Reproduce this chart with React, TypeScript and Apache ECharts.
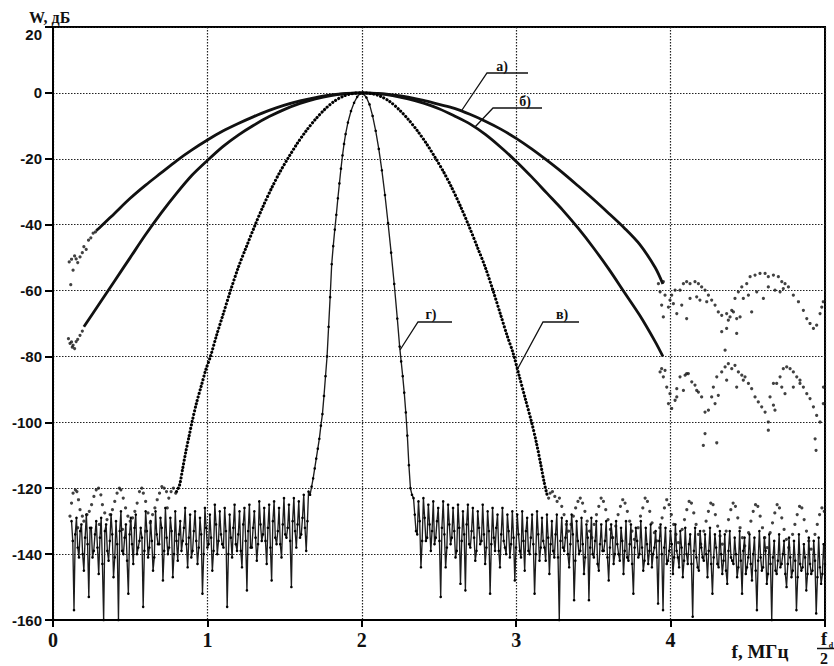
import React, { useEffect, useRef } from "react";
import * as echarts from "echarts";

type P = [number, number];

// ---------- axes ----------
const xMin = 0, xMax = 5, xStep = 1;
const yMin = -160, yMax = 20, yStep = 20;

// ---------- curve а) ----------
const aEndsLeft: P[] = [[0.105,-51.3],[0.115,-58.2],[0.12,-50.5],[0.13,-53.8],[0.14,-49.5],[0.15,-50.4],[0.16,-51.5],[0.175,-49.8],[0.19,-48.5],[0.2,-46.7],[0.215,-47.5],[0.23,-44.7],[0.245,-44],[0.26,-42.6],[0.275,-42.2]];
const aMain: P[] = [[0.28,-41.8],[0.3,-41],[0.4,-36.5],[0.5,-32],[0.6,-28],[0.7,-24.3],[0.8,-20.6],[0.9,-17.3],[1.0,-14.3],[1.1,-11.6],[1.2,-9.3],[1.3,-7.2],[1.4,-5.3],[1.5,-3.7],[1.6,-2.4],[1.7,-1.4],[1.8,-0.6],[1.9,-0.15],[2.0,0],[2.1,-0.15],[2.2,-0.6],[2.3,-1.3],[2.4,-2.3],[2.5,-3.5],[2.6,-4.7],[2.7,-6.5],[2.8,-8.6],[2.9,-11],[3.0,-13.8],[3.1,-17],[3.2,-20.5],[3.3,-24.2],[3.4,-28.2],[3.5,-32.3],[3.6,-36.6],[3.7,-41],[3.8,-46],[3.9,-53],[3.95,-58]];
const aAlias: P[] = [[3.921,-57.9],[3.953,-57.3],[3.932,-60.4],[3.964,-61.4],[3.942,-64.4],[3.953,-68],[3.996,-62.9],[4.007,-61.4],[4.029,-59.9],[4.061,-59.9],[4.083,-57.9],[4.104,-57.3],[4.126,-57.9],[4.158,-57.3],[4.18,-57.9],[4.201,-58.9],[4.223,-59.9],[4.245,-61.4],[4.266,-62.9],[4.288,-64.4],[4.309,-66.5],[4.331,-67.5],[4.363,-67],[4.385,-68],[4.407,-66.5],[4.428,-68.5],
  [3.986,-65],[4.018,-64],[4.04,-67],[4.072,-64.4],[4.104,-68.5],[4.126,-62.4],[4.169,-61.9],[4.19,-62.9],[4.234,-63.4],
  [4.331,-72.5],[4.363,-71.5],[4.353,-78.1],[4.428,-73],[4.45,-68],[4.374,-69],[4.396,-66],
  [4.417,-62.4],[4.439,-60.4],[4.461,-58.9],[4.493,-57.9],[4.515,-55.8],[4.547,-55.3],[4.579,-54.8],[4.612,-54.8],[4.633,-55.8],[4.666,-55.3],[4.698,-55.8],[4.72,-57.3],[4.741,-57.9],[4.763,-58.9],[4.795,-61.4],[4.828,-63.4],[4.86,-66],[4.882,-68.5],[4.903,-70],[4.925,-71.5],[4.946,-70.5],[4.968,-67],[4.979,-65],[4.989,-63.4],
  [4.471,-62.4],[4.504,-61.4],[4.525,-66.5],[4.558,-60.4],[4.601,-62.4],[4.633,-58.9],[4.676,-59.9],[4.709,-60.4],[4.73,-59.4]];

// ---------- curve б) ----------
const bEndsLeft: P[] = [[0.1,-74.6],[0.11,-76],[0.12,-75.6],[0.125,-77.2],[0.13,-76.6],[0.14,-77.6],[0.15,-75.5],[0.16,-74.8],[0.175,-73.6],[0.19,-72.3]];
const bMain: P[] = [[0.2,-71],[0.3,-64],[0.4,-57],[0.5,-50],[0.6,-43],[0.7,-36.5],[0.8,-30.5],[0.9,-25],[1.0,-20.5],[1.1,-16.3],[1.2,-12.8],[1.3,-9.8],[1.4,-7.2],[1.5,-5],[1.6,-3.2],[1.7,-1.8],[1.8,-0.8],[1.9,-0.2],[2.0,0],[2.1,-0.2],[2.2,-0.8],[2.3,-1.8],[2.4,-3.1],[2.5,-4.8],[2.6,-7],[2.7,-9.4],[2.8,-12.6],[2.9,-16.5],[3.0,-20.8],[3.1,-25.5],[3.2,-30.5],[3.3,-35.5],[3.4,-41],[3.5,-47],[3.6,-53.5],[3.7,-60.5],[3.8,-67.5],[3.9,-75.5],[3.95,-80]];
const bAlias: P[] = [[3.942,-83.7],[3.932,-84.7],[3.964,-84.2],[3.953,-86.2],[3.975,-89.3],[3.996,-91.3],[3.986,-94.3],[4.007,-95.8],[4.029,-93.3],[4.04,-89.8],[4.061,-86.2],[4.094,-85.7],[4.115,-85.2],[4.137,-87.7],[4.158,-88.7],[4.18,-90.8],[4.201,-92.3],[4.223,-96.9],[4.245,-96.3],[4.266,-92.3],[4.288,-94.3],[4.309,-91.8],[4.331,-84.7],[4.353,-83.2],[4.374,-82.2],[4.396,-83.7],[4.417,-82.7],[4.439,-84.7],[4.461,-85.7],[4.482,-86.2],[4.504,-88.2],[4.525,-89.8],[4.547,-92.3],[4.568,-93.8],[4.59,-95.3],[4.612,-96.9],[4.633,-99.9],[4.644,-92.3],[4.666,-88.2],[4.687,-88.2],[4.709,-86.2],[4.73,-83.7],[4.752,-83.2],[4.774,-83.7],[4.795,-84.7],[4.817,-86.2],[4.838,-88.2],[4.86,-89.3],[4.882,-91.3],[4.903,-92.8],[4.925,-95.3],[4.946,-97.9],[4.968,-99.9],[4.989,-94.3],[4.99,-89.3],
  [4.04,-92.3],[4.083,-90.3],[4.104,-85.2],[4.169,-90.3],[4.277,-89.3],[4.299,-86.2],[4.363,-87.2],[4.428,-89.3],[4.471,-87.2],[4.666,-94.8],[4.676,-96.3],[4.72,-89.3],[4.741,-91.3],[4.795,-89.3],[4.838,-87.2],
  [4.223,-103.4],[4.212,-107],[4.299,-106.2],[4.633,-102.4],[4.936,-105],[4.942,-108.5]];

// ---------- curve в) ----------
const vLobe: P[] = [[0.8,-121],[0.82,-119],[0.84,-114],[0.86,-109],[0.88,-104.5],[0.9,-100],[0.93,-94],[0.96,-89],[0.99,-84],[1.02,-80],[1.06,-73.5],[1.1,-67.5],[1.15,-60],[1.2,-53],[1.25,-47],[1.31,-40],[1.36,-34.5],[1.42,-28.5],[1.47,-24],[1.52,-20],[1.58,-15.5],[1.64,-11.5],[1.7,-8],[1.76,-5],[1.82,-2.6],[1.88,-1],[1.94,-0.2],[2.0,0],[2.06,-0.2],[2.12,-1],[2.18,-2.6],[2.24,-5],[2.3,-8],[2.36,-11.5],[2.42,-15.5],[2.48,-20],[2.53,-24],[2.58,-28.5],[2.64,-34.5],[2.69,-40],[2.75,-47],[2.8,-53],[2.85,-60],[2.9,-67.5],[2.94,-73.5],[2.98,-79],[3.02,-86],[3.06,-93],[3.1,-100],[3.13,-106],[3.16,-113],[3.18,-118],[3.2,-122]];
const vNoiseLeft: P[] = [[0.11,-128.5],[0.12,-124.5],[0.13,-121.5],[0.145,-120.5],[0.155,-121],[0.165,-123.5],[0.175,-126.5],[0.19,-128.5],[0.2,-130],
  [0.22,-128],[0.235,-127],[0.25,-125],[0.265,-122.5],[0.28,-120.5],[0.295,-120],[0.31,-122],[0.32,-125],[0.335,-127.5],[0.35,-129.5],
  [0.37,-128],[0.385,-126.5],[0.4,-124],[0.415,-121.5],[0.43,-120],[0.44,-120.5],[0.455,-123],[0.47,-126],[0.485,-128.5],[0.5,-130],
  [0.515,-129],[0.53,-127],[0.545,-124.5],[0.56,-121],[0.575,-120],[0.585,-121.5],[0.6,-124],[0.615,-127.5],[0.63,-130.5],
  [0.645,-128],[0.66,-126],[0.675,-123.5],[0.69,-121.5],[0.705,-119.5],[0.72,-120],[0.735,-121],[0.75,-123],[0.765,-121],[0.78,-120],[0.795,-121.5],
  [0.16,-132],[0.3,-131],[0.45,-132.5],[0.6,-133],[0.74,-126]];
const vNoiseRight: P[] = [[3.21,-123],[3.22,-121.5],[3.235,-121],[3.25,-122.5],[3.265,-124],[3.28,-123],[3.295,-125.5],[3.31,-128],[3.325,-131],[3.34,-133],[3.355,-131],
  [3.37,-128.5],[3.385,-126],[3.4,-124],[3.415,-123],[3.43,-124.5],[3.445,-127],[3.46,-130],[3.475,-133],[3.49,-135],
  [3.505,-131],[3.52,-128],[3.535,-125.5],[3.55,-123],[3.565,-124],[3.58,-126.5],[3.595,-129.5],[3.61,-132.5],[3.625,-135],
  [3.645,-131.5],[3.66,-128],[3.675,-125.5],[3.69,-123.5],[3.705,-124.5],[3.72,-127],[3.735,-130],[3.75,-133],[3.765,-135.5],
  [3.79,-132],[3.805,-128.5],[3.82,-126],[3.835,-123],[3.85,-124],[3.865,-127],[3.88,-130.5],[3.895,-133.5],[3.91,-136],
  [3.93,-132],[3.945,-129],[3.96,-126],[3.975,-123.5],[3.99,-125],[4.005,-128],[4.02,-131],[4.035,-134],[4.05,-136.5],
  [4.075,-132.5],[4.09,-129.5],[4.105,-126.5],[4.12,-124],[4.135,-124.5],[4.15,-127.5],[4.165,-131],[4.18,-134],[4.195,-137],
  [4.215,-133],[4.23,-130],[4.245,-127],[4.26,-124.5],[4.275,-125],[4.29,-128],[4.305,-131.5],[4.32,-134.5],[4.335,-137],
  [4.36,-133],[4.375,-129.5],[4.39,-126.5],[4.405,-124.5],[4.42,-125.5],[4.435,-129],[4.45,-132],[4.465,-135],[4.48,-137.5],
  [4.505,-133.5],[4.52,-130],[4.535,-127],[4.55,-125],[4.565,-125.5],[4.58,-128.5],[4.595,-132],[4.61,-135],[4.625,-138],
  [4.645,-133.5],[4.66,-130.5],[4.675,-127.5],[4.69,-125],[4.705,-126],[4.72,-129],[4.735,-132.5],[4.75,-135.5],[4.765,-138],
  [4.79,-134],[4.805,-131],[4.82,-128],[4.835,-125.5],[4.85,-126],[4.865,-129.5],[4.88,-133],[4.895,-136],[4.91,-138.5],
  [4.935,-134],[4.95,-131],[4.965,-128],[4.98,-126],[4.995,-127]];

// ---------- curve г) ----------
const gBinStep = 0.016;
const gLeftStart = 0.12;
const gNoiseLeft = [-130,-157,-129,-141,-131,-145,-128,-153,-132,-139,-130,-146,-129,-160,-131,-142,-128,-147,-130,-160,-127,-140,-131,-152,-129,-143,-128,-138,-132,-156,-127,-141,-130,-145,-127,-137,-129,-148,-126,-140,-129,-147,-127,-142,-130,-136,-126,-144,-128,-139,-127,-143,-129,-152,-126,-138,-128,-145,-125,-140,-127,-137,-126,-156,-128,-141,-125,-139,-127,-144,-126,-151,-125,-138,-127,-142,-124,-136,-126,-143,-125,-148,-124,-137,-126,-141,-123,-135,-125,-150,-123,-138,-124,-134,-122,-139];
const gNoiseLeftMid = [-136,-134,-138,-133,-140,-135,-137,-132,-141,-134,-138,-135,-143,-133,-139,-136,-134,-141,-137,-133,-139,-135,-142,-134,-137,-132,-140,-136,-135,-139,-133,-138,-136,-141,-134,-137,-132,-139,-135,-138,-133,-140,-136,-134,-139,-132,-137,-135,-141,-133,-136,-138,-134,-140,-132,-137,-135,-139,-131,-136,-134,-138,-133,-140,-135,-132,-137,-134,-139,-131,-136,-133,-138,-132,-135,-137,-131,-134,-136,-132,-138,-130,-135,-133,-137,-131,-134,-132,-136,-130,-133,-131,-135,-129,-132,-130];
const gLobe: P[] = [[1.655,-121],[1.665,-122],[1.675,-119.5],[1.685,-117],[1.695,-114],[1.705,-111],[1.715,-108],[1.725,-105],[1.735,-101],[1.745,-97.5],[1.755,-92],[1.765,-86],[1.775,-80],[1.785,-71],[1.795,-62],[1.805,-52],[1.815,-46.5],[1.825,-41.5],[1.835,-37],[1.845,-32],[1.855,-27.5],[1.865,-23],[1.875,-19],[1.885,-15.5],[1.895,-12.5],[1.91,-9],[1.93,-5.5],[1.95,-3],[1.97,-1.2],[1.99,-0.2],[2.01,-0.3],[2.03,-1.4],[2.05,-3.5],[2.07,-7],[2.09,-11.5],[2.11,-17],[2.13,-23.5],[2.15,-31],[2.17,-39.5],[2.19,-48.5],[2.21,-58],[2.23,-68.5],[2.245,-77],[2.255,-81.5],[2.265,-86],[2.275,-91],[2.285,-97],[2.295,-104],[2.305,-113],[2.315,-120],[2.325,-122]];
const gRightStart = 2.335;
const gNoiseRight = [-123,-133,-124,-144,-123,-136,-125,-139,-124,-135,-126,-153,-124,-144,-125,-137,-126,-141,-125,-149,-127,-151,-125,-138,-126,-142,-127,-137,-125,-143,-127,-152,-126,-139,-128,-144,-126,-138,-128,-141,-127,-148,-128,-139,-127,-145,-129,-140,-128,-152,-127,-142,-129,-138,-128,-146,-130,-141,-128,-160,-129,-139,-130,-144,-128,-154,-130,-140,-129,-146,-131,-154,-129,-141,-130,-145,-131,-139,-130,-148,-131,-143,-130,-140,-132,-146,-130,-142,-131,-152,-132,-141,-130,-145,-132,-143,-131,-140,-133,-155,-131,-157,-132,-142,-133,-146,-131,-141,-133,-147,-132,-143,-134,-159,-132,-144,-133,-141,-134,-147,-132,-152,-134,-143,-133,-146,-134,-149,-133,-142,-135,-147,-133,-152,-135,-144,-134,-148,-135,-157,-133,-145,-135,-149,-134,-160,-136,-146,-134,-143,-136,-150,-135,-147,-136,-157,-134,-145,-137,-151,-135,-146,-136,-158,-135,-149,-137];
const gNoiseRightMid = [-128,-134,-130,-136,-129,-135,-131,-133,-137,-130,-136,-132,-134,-138,-131,-135,-133,-139,-132,-136,-134,-131,-137,-133,-135,-139,-132,-136,-134,-138,-133,-137,-135,-132,-139,-134,-136,-140,-133,-137,-135,-138,-134,-141,-136,-133,-139,-135,-137,-140,-134,-138,-136,-142,-135,-137,-139,-134,-141,-136,-138,-135,-140,-137,-134,-142,-136,-139,-137,-141,-135,-138,-140,-136,-143,-137,-139,-136,-141,-138,-135,-140,-137,-142,-136,-139,-141,-137,-143,-138,-136,-140,-138,-142,-137,-139,-144,-138,-141,-136,-140,-138,-143,-139,-137,-141,-139,-144,-138,-142,-140,-137,-143,-139,-141,-145,-138,-142,-140,-139,-143,-141,-138,-144,-140,-142,-145,-139,-141,-143,-140,-144,-142,-139,-146,-141,-143,-140,-145,-142,-141,-144,-139,-146,-143,-141,-145,-142,-144,-140,-146,-143,-141,-145,-142,-147,-143,-144,-141,-146,-143,-145,-142,-147,-144,-146,-143];

const binsWithMid = (start: number, main: number[], mid: number[]): P[] => {
  const out: P[] = [];
  main.forEach((v, i) => {
    const f = start + i * gBinStep;
    out.push([+f.toFixed(4), v]);
    if (i < mid.length) out.push([+(f + gBinStep / 2).toFixed(4), mid[i]]);
  });
  return out;
};

const gSeriesData: P[] = [
  ...binsWithMid(gLeftStart, gNoiseLeft, gNoiseLeftMid),
  ...gLobe,
  ...binsWithMid(gRightStart, gNoiseRight, gNoiseRightMid),
];

const INK = "#111";
const SERIF = "'Liberation Serif', 'DejaVu Serif', serif";
const SANS = "'Liberation Sans', Arial, sans-serif";

const dots = (name: string, data: P[]) => ({
  type: "scatter", name, data, symbol: "circle", symbolSize: 3.2,
  itemStyle: { color: INK }, silent: true, z: 4,
});

const leader = (pts: number[][], label: string, tx: number, ty: number) => [
  { type: "polyline", silent: true, z: 100, shape: { points: pts }, style: { stroke: INK, lineWidth: 1.3, fill: null } },
  { type: "text", silent: true, z: 100, x: tx, y: ty, style: { text: label, font: `bold 14px ${SERIF}`, fill: INK, align: "center", verticalAlign: "middle" } },
];

export default function App() {
  const ref = useRef<HTMLDivElement>(null);
  useEffect(() => {
    if (!ref.current) return;
    const chart = echarts.init(ref.current, null, { renderer: "svg" });
    const gridLine = { show: true, lineStyle: { color: "#222", width: 1.2, type: [1.5, 1.5] } };
    chart.setOption({
      animation: false,
      backgroundColor: "#fff",
      grid: { left: 53, right: 9, top: 27, bottom: 46, show: true, borderColor: "#000", borderWidth: 2, backgroundColor: "transparent" },
      xAxis: {
        type: "value", min: xMin, max: xMax, interval: xStep,
        axisLine: { show: true, onZero: false, lineStyle: { color: "#000", width: 2 } },
        axisTick: { show: true, length: 7, lineStyle: { color: "#000", width: 2 } },
        axisLabel: { formatter: (v: number) => (v === xMax ? "" : String(v)), fontFamily: SERIF, fontWeight: "bold", fontSize: 20, color: INK, margin: 10 },
        splitLine: gridLine,
      },
      yAxis: {
        type: "value", min: yMin, max: yMax, interval: yStep,
        axisLine: { show: true, onZero: false, lineStyle: { color: "#000", width: 2 } },
        axisTick: { show: true, length: 8, lineStyle: { color: "#000", width: 2 } },
        axisLabel: { fontFamily: SANS, fontWeight: "bold", fontSize: 15, color: INK, margin: 11, verticalAlignMaxLabel: "top" },
        splitLine: gridLine,
      },
      series: [
        { type: "line", name: "а", data: aMain, smooth: 0.3, showSymbol: false, silent: true, lineStyle: { color: INK, width: 2.8 }, z: 3 },
        dots("а-dots", [...aEndsLeft, ...aAlias]),
        { type: "line", name: "б", data: bMain, smooth: 0.3, showSymbol: false, silent: true, lineStyle: { color: INK, width: 2.8 }, z: 3 },
        dots("б-dots", [...bEndsLeft, ...bAlias]),
        { type: "line", name: "г", data: gSeriesData, smooth: false, showSymbol: true, showAllSymbol: true, symbol: "circle", symbolSize: 2.6, silent: true,
          itemStyle: { color: "#000" }, lineStyle: { color: "#1c1c1c", width: 1.35 }, z: 2 },
        { type: "line", name: "в", data: vLobe, smooth: 0.3, showSymbol: false, silent: true,
          lineStyle: { color: "#000", width: 3.1, type: [0.1, 3.5], cap: "round" }, z: 3 },
        dots("в-dots", [...vNoiseLeft, ...vNoiseRight]),
      ],
      graphic: [
        { type: "text", silent: true, x: 29, y: 17, style: { text: "W, дБ", font: `bold 16px ${SERIF}`, fill: INK, verticalAlign: "middle" } },
        { type: "text", silent: true, x: 760, y: 651, style: { text: "f, МГц", font: `bold 19px ${SERIF}`, fill: INK, align: "center", verticalAlign: "middle" } },
        { type: "text", silent: true, x: 824, y: 639, style: { text: "f", font: `bold 18px ${SERIF}`, fill: INK, align: "center", verticalAlign: "middle" } },
        { type: "text", silent: true, x: 831, y: 645, style: { text: "d", font: `bold 8px ${SERIF}`, fill: INK, align: "center", verticalAlign: "middle" } },
        { type: "line", silent: true, shape: { x1: 817, y1: 648.5, x2: 834, y2: 648.5 }, style: { stroke: INK, lineWidth: 1.5 } },
        { type: "text", silent: true, x: 824, y: 658, style: { text: "2", font: `bold 16px ${SERIF}`, fill: INK, align: "center", verticalAlign: "middle" } },
        ...leader([[462, 110], [487, 73], [528, 73]], "а)", 502, 66),
        ...leader([[475, 127], [493, 108], [542, 108]], "б)", 525, 101),
        ...leader([[400, 350], [418, 322], [452, 322]], "г)", 431, 314),
        ...leader([[517, 370], [543, 322], [579, 322]], "в)", 562, 314),
      ],
    });
    return () => chart.dispose();
  }, []);
  return <div ref={ref} style={{ position: "absolute", left: 0, top: 0, width: 834, height: 666, background: "#fff" }} />;
}
